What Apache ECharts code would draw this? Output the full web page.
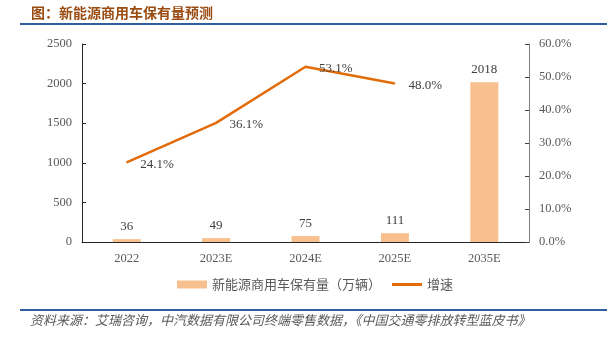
<!DOCTYPE html>
<html><head><meta charset="utf-8">
<script src="https://cdn.jsdelivr.net/npm/echarts@6/dist/echarts.min.js"></script>
<style>html,body{margin:0;padding:0;background:#fff}#c{width:607px;height:337px}</style>
</head><body><div id="c"></div>
<script>
const categories = ['2022', '2023E', '2024E', '2025E', '2035E'];
const stockValues = [36, 49, 75, 111, 2018];
const growthValues = [24.1, 36.1, 53.1, 48.0, '-'];
const titleText = '图：新能源商用车保有量预测';
const sourceText = '资料来源：艾瑞咨询，中汽数据有限公司终端零售数据，《中国交通零排放转型蓝皮书》';
const barName = '新能源商用车保有量（万辆）';
const lineName = '增速';

const serif = '"Liberation Serif", "DejaVu Serif", serif';
const cjk = '"Noto Sans CJK SC", sans-serif';
const chart = echarts.init(document.getElementById('c'), null, {renderer: 'canvas'});
chart.setOption({
  animation: false,
  grid: {left: 82, right: 78, top: 44, bottom: 95},
  graphic: [
    {type: 'text', left: 31, top: 6, style: {text: titleText, font: 'bold 14px ' + cjk, fill: '#9a4c12'}},
    {type: 'rect', shape: {x: 20, y: 23, width: 587, height: 2}, style: {fill: '#2f5d9e'}},
    {type: 'rect', shape: {x: 20, y: 309, width: 587, height: 2}, style: {fill: '#2f5d9e'}},
    {type: 'text', left: 30, top: 314, style: {text: sourceText, font: 'italic 13px ' + cjk, fill: '#595959'}}
  ],
  legend: {
    bottom: 41, left: 172, itemGap: 11, itemWidth: 30, itemHeight: 8,
    textStyle: {fontFamily: cjk, fontSize: 13, color: '#595959'},
    data: [{name: barName, icon: 'rect'}, {name: lineName, icon: 'path://M0,0H30V3H0Z', itemStyle: {color: '#e36c0a'}}]
  },
  xAxis: {
    type: 'category', data: categories,
    axisLine: {lineStyle: {color: '#262626', width: 1}},
    axisTick: {show: false},
    axisLabel: {fontFamily: serif, fontSize: 12.5, color: '#595959', margin: 10}
  },
  yAxis: [
    {type: 'value', min: 0, max: 2500, interval: 500,
     axisLine: {show: true, lineStyle: {color: '#262626'}},
     axisTick: {show: true, inside: true, length: 4, lineStyle: {color: '#262626'}},
     splitLine: {show: false},
     axisLabel: {fontFamily: serif, fontSize: 12.5, color: '#595959', margin: 10, formatter: v => String(v)}},
    {type: 'value', min: 0, max: 60, interval: 10,
     axisLine: {show: true, lineStyle: {color: '#808080'}},
     axisTick: {show: true, inside: true, length: 4, lineStyle: {color: '#404040'}},
     splitLine: {show: false},
     axisLabel: {fontFamily: serif, fontSize: 12.5, color: '#595959', margin: 10, formatter: v => v.toFixed(1) + '%'}}
  ],
  series: [
    {name: barName, type: 'bar', data: stockValues, barWidth: 28, yAxisIndex: 0,
     itemStyle: {color: '#f8c08e'},
     label: {show: true, position: 'top', distance: 6, fontFamily: serif, fontSize: 13, color: '#404040'}},
    {name: lineName, type: 'line', data: growthValues, yAxisIndex: 1,
     symbol: 'circle', symbolSize: 1, showSymbol: true,
     lineStyle: {color: '#e36c0a', width: 2.5}, itemStyle: {color: '#e36c0a'},
     label: {show: true, position: 'right', distance: 13, offset: [0, 2], fontFamily: serif, fontSize: 13, color: '#404040',
       formatter: p => (typeof p.value === 'number' ? p.value.toFixed(1) + '%' : '')}}
  ]
});
</script></body></html>
